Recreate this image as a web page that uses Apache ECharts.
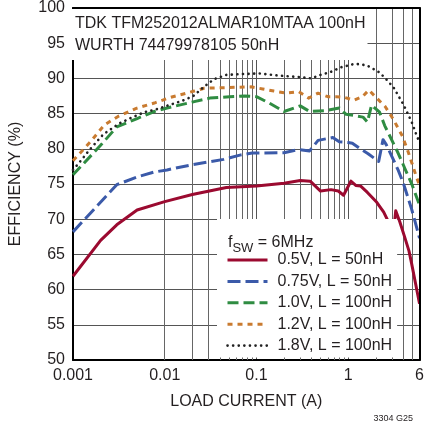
<!DOCTYPE html>
<html><head><meta charset="utf-8">
<script src="https://cdn.jsdelivr.net/npm/echarts@6/dist/echarts.min.js"></script>
<style>html,body{margin:0;padding:0;background:#fff}#c{width:427px;height:431px}</style>
</head><body><div id="c"></div>
<script>
// ---- data ----
const xTickLabels = ['0.001', '0.01', '0.1', '1', '6'];
const minorGridA = [0.002,0.003,0.004,0.005,0.006,0.007,0.008,0.009,
  0.02,0.03,0.04,0.05,0.06,0.07,0.08,0.09,
  0.2,0.3,0.4,0.5,0.6,0.7,0.8,0.9, 2,3,4,5];
const seriesNames = ['0.5V, L = 50nH','0.75V, L = 50nH','1.0V, L = 100nH','1.2V, L = 100nH','1.8V, L = 100nH'];

const currentA05 = [0.001,0.002,0.003,0.005,0.01,0.02,0.047,0.1,0.2,0.3,0.385,0.5,0.65,0.78,0.89,1.07,1.21,1.37,1.62,2.05,2.44,2.8,3.16,3.3,3.66,4.1,4.6,4.9,5.4,6];
const eff05      = [61.9,67.0,69.2,71.3,72.5,73.5,74.5,74.7,75.1,75.5,75.4,74.0,74.2,74.0,73.4,75.4,74.8,74.7,73.8,72.4,71.0,69.4,68.7,71.2,69.6,67.6,65.5,63.8,61.0,58.0];

const currentA075 = [0.001,0.003,0.005,0.0077,0.0106,0.02,0.044,0.066,0.09,0.2,0.29,0.38,0.47,0.68,0.8,1.0,1.11,1.32,1.65,2.15,2.4,2.6,3.0,3.5,4.0,4.5,4.9,5.3,5.8,6];
const eff075      = [68.2,74.9,76.0,76.7,77.0,77.75,78.5,79.1,79.4,79.45,79.9,79.7,81.2,81.6,81.0,80.9,80.8,80.1,79.3,78.2,81.3,80.6,78.9,77.0,75.1,73.0,71.5,69.9,68.0,67.3];

const currentA10 = [0.001,0.002,0.003,0.005,0.0077,0.0106,0.021,0.031,0.051,0.074,0.1,0.138,0.2,0.3,0.38,0.55,0.8,0.95,1.2,1.45,1.62,1.8,2.2,2.5,3.0,3.5,4.15,4.9,5.55,6];
const eff10      = [76.3,80.5,83.1,84.3,85.3,85.8,86.7,87.2,87.4,87.5,87.4,86.5,85.3,86.1,85.3,85.4,85.8,84.9,84.7,84.5,83.8,86.2,85.2,83.3,81.2,79.4,77.2,75.1,73.2,72.0];

const currentA12 = [0.001,0.00155,0.0022,0.0031,0.0049,0.0077,0.0115,0.021,0.027,0.05,0.087,0.117,0.155,0.21,0.29,0.37,0.47,0.6,0.74,0.91,1.16,1.43,1.68,1.98,2.53,3.1,3.9,4.5,5.0,5.55,6];
const eff12      = [78.3,81.0,83.4,84.6,85.75,86.5,87.3,88.2,88.6,88.7,88.8,88.5,88.2,87.9,88.1,87.2,87.9,87.4,87.4,87.3,86.9,87.4,88.35,87.4,86.0,84.2,81.8,79.6,77.8,76.0,74.8];

const currentA18 = [0.001,0.00126,0.0015,0.00214,0.0032,0.0043,0.006,0.0083,0.0111,0.0154,0.0205,0.0267,0.0346,0.047,0.066,0.108,0.176,0.288,0.4,0.47,0.64,0.85,1.16,1.37,1.62,1.91,2.16,2.44,2.76,3.13,3.5,4.0,4.5,5.0,5.5,6];
const eff18      = [77.0,78.55,79.8,82.06,83.6,84.4,85.2,85.65,86.2,86.8,87.5,88.8,89.9,90.5,90.6,90.7,90.4,90.2,90.0,90.4,90.9,91.6,92.05,92.0,91.8,91.3,90.9,90.25,89.5,88.7,87.6,86.3,84.9,83.6,82.1,80.9];

// ---- chart ----
const FONT = 'Liberation Sans, Arial, sans-serif';
const TXT = '#231f20';
const pairs = (xs, ys) => xs.map((x, i) => [x, ys[i]]);
const styles = [
  {color:'#9b0a30', type:'solid', width:3},
  {color:'#3b5aa9', type:[13,5], width:3},
  {color:'#2f8c42', type:[11,5], width:3},
  {color:'#c97b30', type:[5,5], width:3},
  {color:'#222222', type:[0.1,5.5], width:2.6, cap:'round'}
];
const datasets = [pairs(currentA05,eff05), pairs(currentA075,eff075), pairs(currentA10,eff10), pairs(currentA12,eff12), pairs(currentA18,eff18)];

const chart = echarts.init(document.getElementById('c'), null, {renderer:'canvas'});
const dataSeries = datasets.map((d, i) => ({
  name: seriesNames[i], type:'line', data:d, symbol:'none', showSymbol:false, z:3,
  lineStyle: Object.assign({join:'round'}, styles[i]), itemStyle:{color:styles[i].color},
  emphasis:{disabled:true}, animation:false
}));

chart.setOption({
  animation:false,
  textStyle:{fontFamily:FONT},
  grid:{left:70, right:5, top:8, bottom:71},
  title:[
    {text:'TDK TFM252012ALMAR10MTAA 100nH\nWURTH 74479978105 50nH', left:70, top:9,
     backgroundColor:'#fff', padding:[4,2,3,5],
     textStyle:{fontSize:16, fontWeight:'normal', color:TXT, lineHeight:22, fontFamily:FONT}},
    {text:'{f|f}{s|SW}{t| = 6MHz}', left:223, top:226, z:8,
     textStyle:{fontWeight:'normal', rich:{
       f:{fontSize:16, color:TXT, fontFamily:FONT},
       s:{fontSize:13, color:TXT, fontFamily:FONT, padding:[11,0,0,0]},
       t:{fontSize:16, color:TXT, fontFamily:FONT}}}},
    {text:'3304 G25', right:9, bottom:3,
     textStyle:{fontSize:9, fontWeight:'normal', color:TXT, fontFamily:FONT}}
  ],
  legend:{
    orient:'vertical', left:217, top:219, backgroundColor:'#fff', z:6,
    padding:[31,5,2,9], itemWidth:40, itemHeight:12, itemGap:1.4,
    selectedMode:false,
    itemStyle:{opacity:0},
    textStyle:{fontSize:16, color:TXT, lineHeight:20, fontFamily:FONT, padding:[0,0,0,5]},
    data: seriesNames.map((n, i) => ({name:n, itemStyle:{opacity:0}, lineStyle:{width: i===4?2.6:3}}))
  },
  xAxis:[
    {type:'log', logBase:10, min:0.001, max:6, position:'bottom',
     axisLine:{show:true, lineStyle:{color:'#000', width:2}}, axisTick:{show:false},
     splitLine:{show:true, lineStyle:{color:'#555', width:1}},
     axisLabel:{fontSize:16, color:TXT, margin:8, fontFamily:FONT,
       showMinLabel:true, showMaxLabel:true,
       formatter:v => { const s = String(+(+v).toPrecision(6)); return xTickLabels.includes(s) ? s : ''; }},
     name:'LOAD CURRENT (A)', nameLocation:'middle', nameGap:34,
     nameTextStyle:{fontSize:16, color:TXT, fontFamily:FONT}},
    {type:'log', logBase:10, min:0.001, max:6, position:'top', z:10,
     axisLine:{show:true, onZero:false, lineStyle:{color:'#000', width:2}},
     axisTick:{show:false}, axisLabel:{show:false}, splitLine:{show:false}}
  ],
  yAxis:[
    {type:'value', min:50, max:100, interval:5, position:'left',
     axisLine:{show:true, lineStyle:{color:'#000', width:2}}, axisTick:{show:false},
     splitLine:{show:true, lineStyle:{color:'#555', width:1}},
     axisLabel:{fontSize:16, color:TXT, margin:8, fontFamily:FONT},
     name:'EFFICIENCY (%)', nameLocation:'middle', nameGap:49, nameRotate:90,
     nameTextStyle:{fontSize:16, color:TXT, fontFamily:FONT}},
    {type:'value', min:50, max:100, interval:5, position:'right', z:10,
     axisLine:{show:true, onZero:false, lineStyle:{color:'#000', width:2}},
     axisTick:{show:false}, axisLabel:{show:false}, splitLine:{show:false}}
  ],
  series:[
    {type:'line', name:'grid', data:[], z:1, silent:true, symbol:'none',
     markLine:{z:1, silent:true, symbol:'none', label:{show:false}, animation:false,
       lineStyle:{type:'solid', color:'#666', width:1},
       data: minorGridA.map(v => ({xAxis:v}))}}
  ].concat(dataSeries)
});
</script></body></html>
